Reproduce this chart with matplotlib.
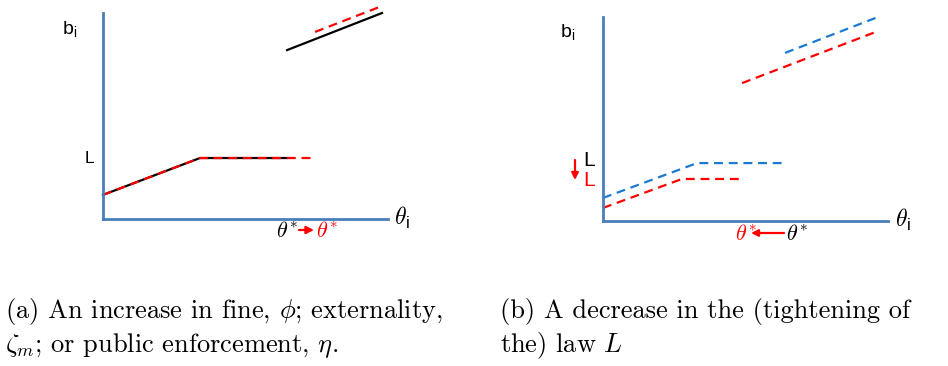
import matplotlib.pyplot as plt

plt.rcParams['mathtext.fontset'] = 'cm'
plt.rcParams['axes.unicode_minus'] = False

# panel (a): black = before, red = after an increase in fine
a_low_theta = [0, 3.40, 6.46]
a_low_b = [1.17, 2.96, 2.96]
a_low_red_theta = [0, 3.40, 7.33]
a_low_red_b = [1.17, 2.96, 2.96]
a_high_theta = [6.46, 9.79]
a_high_b = [8.20, 10.0]
a_high_red_theta = [7.44, 9.79]
a_high_red_b = [9.08, 10.34]

# panel (b): blue = before, red = after a decrease in L
b_low_blue_theta = [0, 3.30, 6.39]
b_low_blue_b = [1.13, 2.84, 2.84]
b_low_red_theta = [0, 2.77, 4.88]
b_low_red_b = [0.64, 2.06, 2.06]
b_high_blue_theta = [6.39, 9.65]
b_high_blue_b = [8.24, 10.0]
b_high_red_theta = [4.88, 9.65]
b_high_red_b = [6.76, 9.31]

captions = [
    ["(a) An increase in fine, $\\phi$; externality,",
     "$\\zeta_m$; or public enforcement, $\\eta$."],
    ["(b) A decrease in the (tightening of",
     "the) law $L$"],
]

W, H = 948, 366
AXIS = '#4a7ebb'
RED = '#ff0000'
BLUE = '#1a7ad0'
DASH = (0, (4, 2.6))
THETA_STAR = '$\\theta^{\\!*}$'

fig = plt.figure(figsize=(W / 100, H / 100), dpi=100)


def px(x, y):
    return x / W, 1 - y / H


def make_axes(left, bottom, right, top):
    ax = fig.add_axes([left / W, 1 - bottom / H, (right - left) / W, (bottom - top) / H])
    ax.set_xlim(0, 10)
    ax.set_ylim(0, 10)
    for s in ['top', 'right']:
        ax.spines[s].set_visible(False)
    for s in ['left', 'bottom']:
        ax.spines[s].set_color(AXIS)
        ax.spines[s].set_linewidth(2.0)
    ax.set_xticks([])
    ax.set_yticks([])
    ax.patch.set_alpha(0)
    return ax


def label(x, y, s, color='black', size=12, **kw):
    fig.text(*px(x, y), s, color=color, fontsize=size, va='center', ha='left',
             family='Liberation Sans', **kw)


def arrow(x0, y0, x1, y1, color, scale=10):
    fig.patches.append(plt.matplotlib.patches.FancyArrowPatch(
        px(x0, y0), px(x1, y1), transform=fig.transFigure,
        arrowstyle='-|>', mutation_scale=scale, color=color, lw=1.6,
        shrinkA=0, shrinkB=0))


# panel (a)
ax1 = make_axes(103, 219, 388, 13)
ax1.plot(a_low_theta, a_low_b, color='black', lw=1.6, clip_on=False)
ax1.plot(a_low_red_theta, a_low_red_b, color=RED, lw=1.6, ls=DASH, clip_on=False)
ax1.plot(a_high_theta, a_high_b, color='black', lw=1.6, clip_on=False)
ax1.plot(a_high_red_theta, a_high_red_b, color=RED, lw=1.6, ls=DASH, clip_on=False)

label(62, 30, 'b$_\\mathregular{i}$', size=14)
label(85, 159, 'L', size=12.5)
label(394, 218, '$\\theta_\\mathregular{i}$', size=17)
label(276, 232, THETA_STAR, size=16)
arrow(299, 230, 314, 230, RED, scale=11)
label(316, 232, THETA_STAR, color=RED, size=16)

# panel (b)
ax2 = make_axes(603, 221, 888, 17)
ax2.plot(b_low_blue_theta, b_low_blue_b, color=BLUE, lw=1.6, ls=DASH, clip_on=False)
ax2.plot(b_low_red_theta, b_low_red_b, color=RED, lw=1.6, ls=DASH, clip_on=False)
ax2.plot(b_high_blue_theta, b_high_blue_b, color=BLUE, lw=1.6, ls=DASH, clip_on=False)
ax2.plot(b_high_red_theta, b_high_red_b, color=RED, lw=1.6, ls=DASH, clip_on=False)

label(560, 33, 'b$_\\mathregular{i}$', size=14)
label(583, 161, 'L', size=15)
label(583, 181, 'L', color=RED, size=15)
arrow(575, 160, 575, 180, RED)
label(895, 220, '$\\theta_\\mathregular{i}$', size=17)
label(735, 235, THETA_STAR, color=RED, size=16)
arrow(784, 233, 751, 233, RED)
label(786, 235, THETA_STAR, size=16)

# captions
for cx, lines in zip([5, 500], captions):
    for i, line in enumerate(lines):
        fig.text(*px(cx, 318 + 34 * i), line, fontsize=19, family='cmr10',
                 va='baseline', ha='left')

fig.savefig('out.png', dpi=100)
